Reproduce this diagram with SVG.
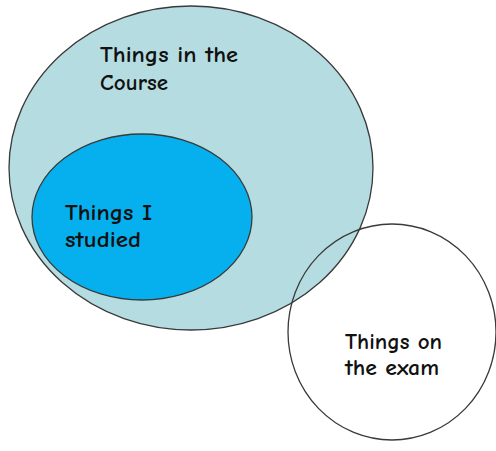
<svg xmlns="http://www.w3.org/2000/svg" width="496" height="451" viewBox="0 0 496 451">
<style>
.shape{stroke:#3a3a3a;stroke-width:1.3}
.lbl{font-family:"Comic Sans MS","Comic Neue","DejaVu Sans",sans-serif;font-size:23px;font-weight:bold;fill:#111}
</style>
<rect width="496" height="451" fill="#ffffff"/>
<g id="course">
<ellipse class="shape" cx="191" cy="168" rx="182" ry="162" fill="#b5dde1"/>
<text class="lbl" x="100" y="62" textLength="138" lengthAdjust="spacingAndGlyphs">Things in the</text>
<text class="lbl" x="100" y="90" textLength="68" lengthAdjust="spacingAndGlyphs">Course</text>
</g>
<g id="studied">
<ellipse class="shape" cx="142" cy="217" rx="110" ry="83" fill="#06b0ee"/>
<text class="lbl" x="65" y="220" textLength="87" lengthAdjust="spacingAndGlyphs">Things I</text>
<text class="lbl" x="65" y="247" textLength="76" lengthAdjust="spacingAndGlyphs">studied</text>
</g>
<g id="exam">
<ellipse class="shape" cx="392" cy="332" rx="104" ry="108" fill="none"/>
<text class="lbl" x="345" y="349" textLength="97" lengthAdjust="spacingAndGlyphs">Things on</text>
<text class="lbl" x="345" y="375" textLength="94" lengthAdjust="spacingAndGlyphs">the exam</text>
</g>
<g id="connectors"/>
</svg>
